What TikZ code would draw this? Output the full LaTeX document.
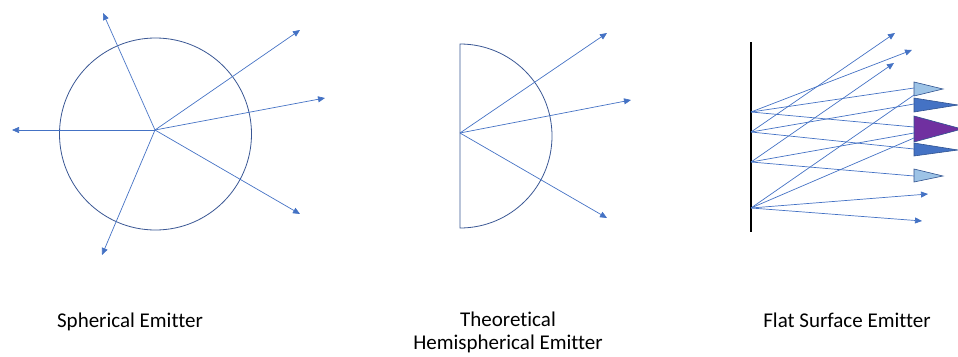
\documentclass[tikz,border=0pt]{standalone}
\usepackage{fontspec}
\setmainfont{Carlito}[Ligatures=NoCommon]
\usetikzlibrary{arrows.meta}

\definecolor{rayblue}{HTML}{4472C4}
\definecolor{shellblue}{HTML}{3A5794}
\definecolor{lightcone}{HTML}{9DC3E6}
\definecolor{conepurple}{HTML}{7030A0}
\definecolor{coneedge}{HTML}{2F528F}

\tikzset{
  ray/.style={rayblue, line width=0.7pt},
  shell/.style={shellblue, line width=0.8pt},
  cone/.style={draw=coneedge, line width=0.6pt},
  caption/.style={font=\fontsize{21}{23}\selectfont, align=center, anchor=base}
}

\begin{document}
\begin{tikzpicture}[x=1pt, y=-1pt, >={Triangle[length=7pt, width=6pt]}]
        \useasboundingbox (0,0) rectangle (958,356);
        \clip (0,0) rectangle (958,356);

        % Spherical emitter
        \coordinate (sc) at (155,130);
        \draw[shell] (155.5,134) circle[radius=96];
        \coordinate (s1) at (103,13);
        \coordinate (s2) at (300,30);
        \coordinate (s3) at (325,98);
        \coordinate (s4) at (12,130);
        \coordinate (s5) at (300,214);
        \coordinate (s6) at (102,255);
        \foreach \e in {s1,s2,s3,s4,s5,s6}
            \draw[ray, ->] (sc) -- (\e);
        \node[caption] (lblsphere) at (130,327) {Spherical Emitter};

        % Hemispherical emitter
        \coordinate (hc) at (460,133);
        \draw[shell] (460,44) arc[start angle=-90, end angle=90, radius=92] -- cycle;
        \coordinate (h1) at (607,33);
        \coordinate (h2) at (631,100);
        \coordinate (h3) at (607,218);
        \foreach \e in {h1,h2,h3}
            \draw[ray, ->] (hc) -- (\e);
        \node[caption] (lblhemi) at (508,349) {Theoretical\\Hemispherical Emitter};

        % Flat surface emitter
        \coordinate (wtop) at (751,42);
        \coordinate (wbot) at (751,232);
        \draw[black, line width=2.6pt] (wtop) -- (wbot);
        \coordinate (p1) at (751,112);
        \coordinate (p2) at (751,132);
        \coordinate (p3) at (751,162);
        \coordinate (p4) at (751,208);

        % Detector cones
        \draw[cone, fill=lightcone] (914,82) -- (943,89) -- (914,96) -- cycle;
        \draw[cone, fill=rayblue] (914,98) -- (958,105) -- (914,112) -- cycle;
        \draw[cone, fill=conepurple] (914,116) -- (962,129) -- (914,142) -- cycle;
        \draw[cone, fill=rayblue] (914,143) -- (958,150) -- (914,156) -- cycle;
        \draw[cone, fill=lightcone] (914,169) -- (943,176) -- (914,182) -- cycle;
        \coordinate (t1a) at (914,88);
        \coordinate (t1b) at (914,95);
        \coordinate (t2a) at (914,104);
        \coordinate (pua) at (914,127);
        \coordinate (pub) at (914,133);
        \coordinate (puc) at (914,138);
        \coordinate (t4a) at (914,149);
        \coordinate (t5a) at (914,176);

        % Free rays
        \coordinate (f1) at (895,33);
        \coordinate (f2) at (912,50);
        \coordinate (f3) at (894,63);
        \coordinate (f4) at (928,194);
        \coordinate (f5) at (922,221);
        \draw[ray, ->] (p1) -- (f2);
        \draw[ray, ->] (p2) -- (f1);
        \draw[ray, ->] (p3) -- (f3);
        \draw[ray, ->] (p4) -- (f4);
        \draw[ray, ->] (p4) -- (f5);

        % Rays into the cones
        \draw[ray] (p1) -- (t1a);
        \draw[ray] (p1) -- (pua);
        \draw[ray] (p2) -- (t2a);
        \draw[ray] (p2) -- (t4a);
        \draw[ray] (p3) -- (pub);
        \draw[ray] (p3) -- (t5a);
        \draw[ray] (p4) -- (t1b);
        \draw[ray] (p4) -- (puc);
        \node[caption] (lblflat) at (847,327) {Flat Surface Emitter};
    \end{tikzpicture}
\end{document}
